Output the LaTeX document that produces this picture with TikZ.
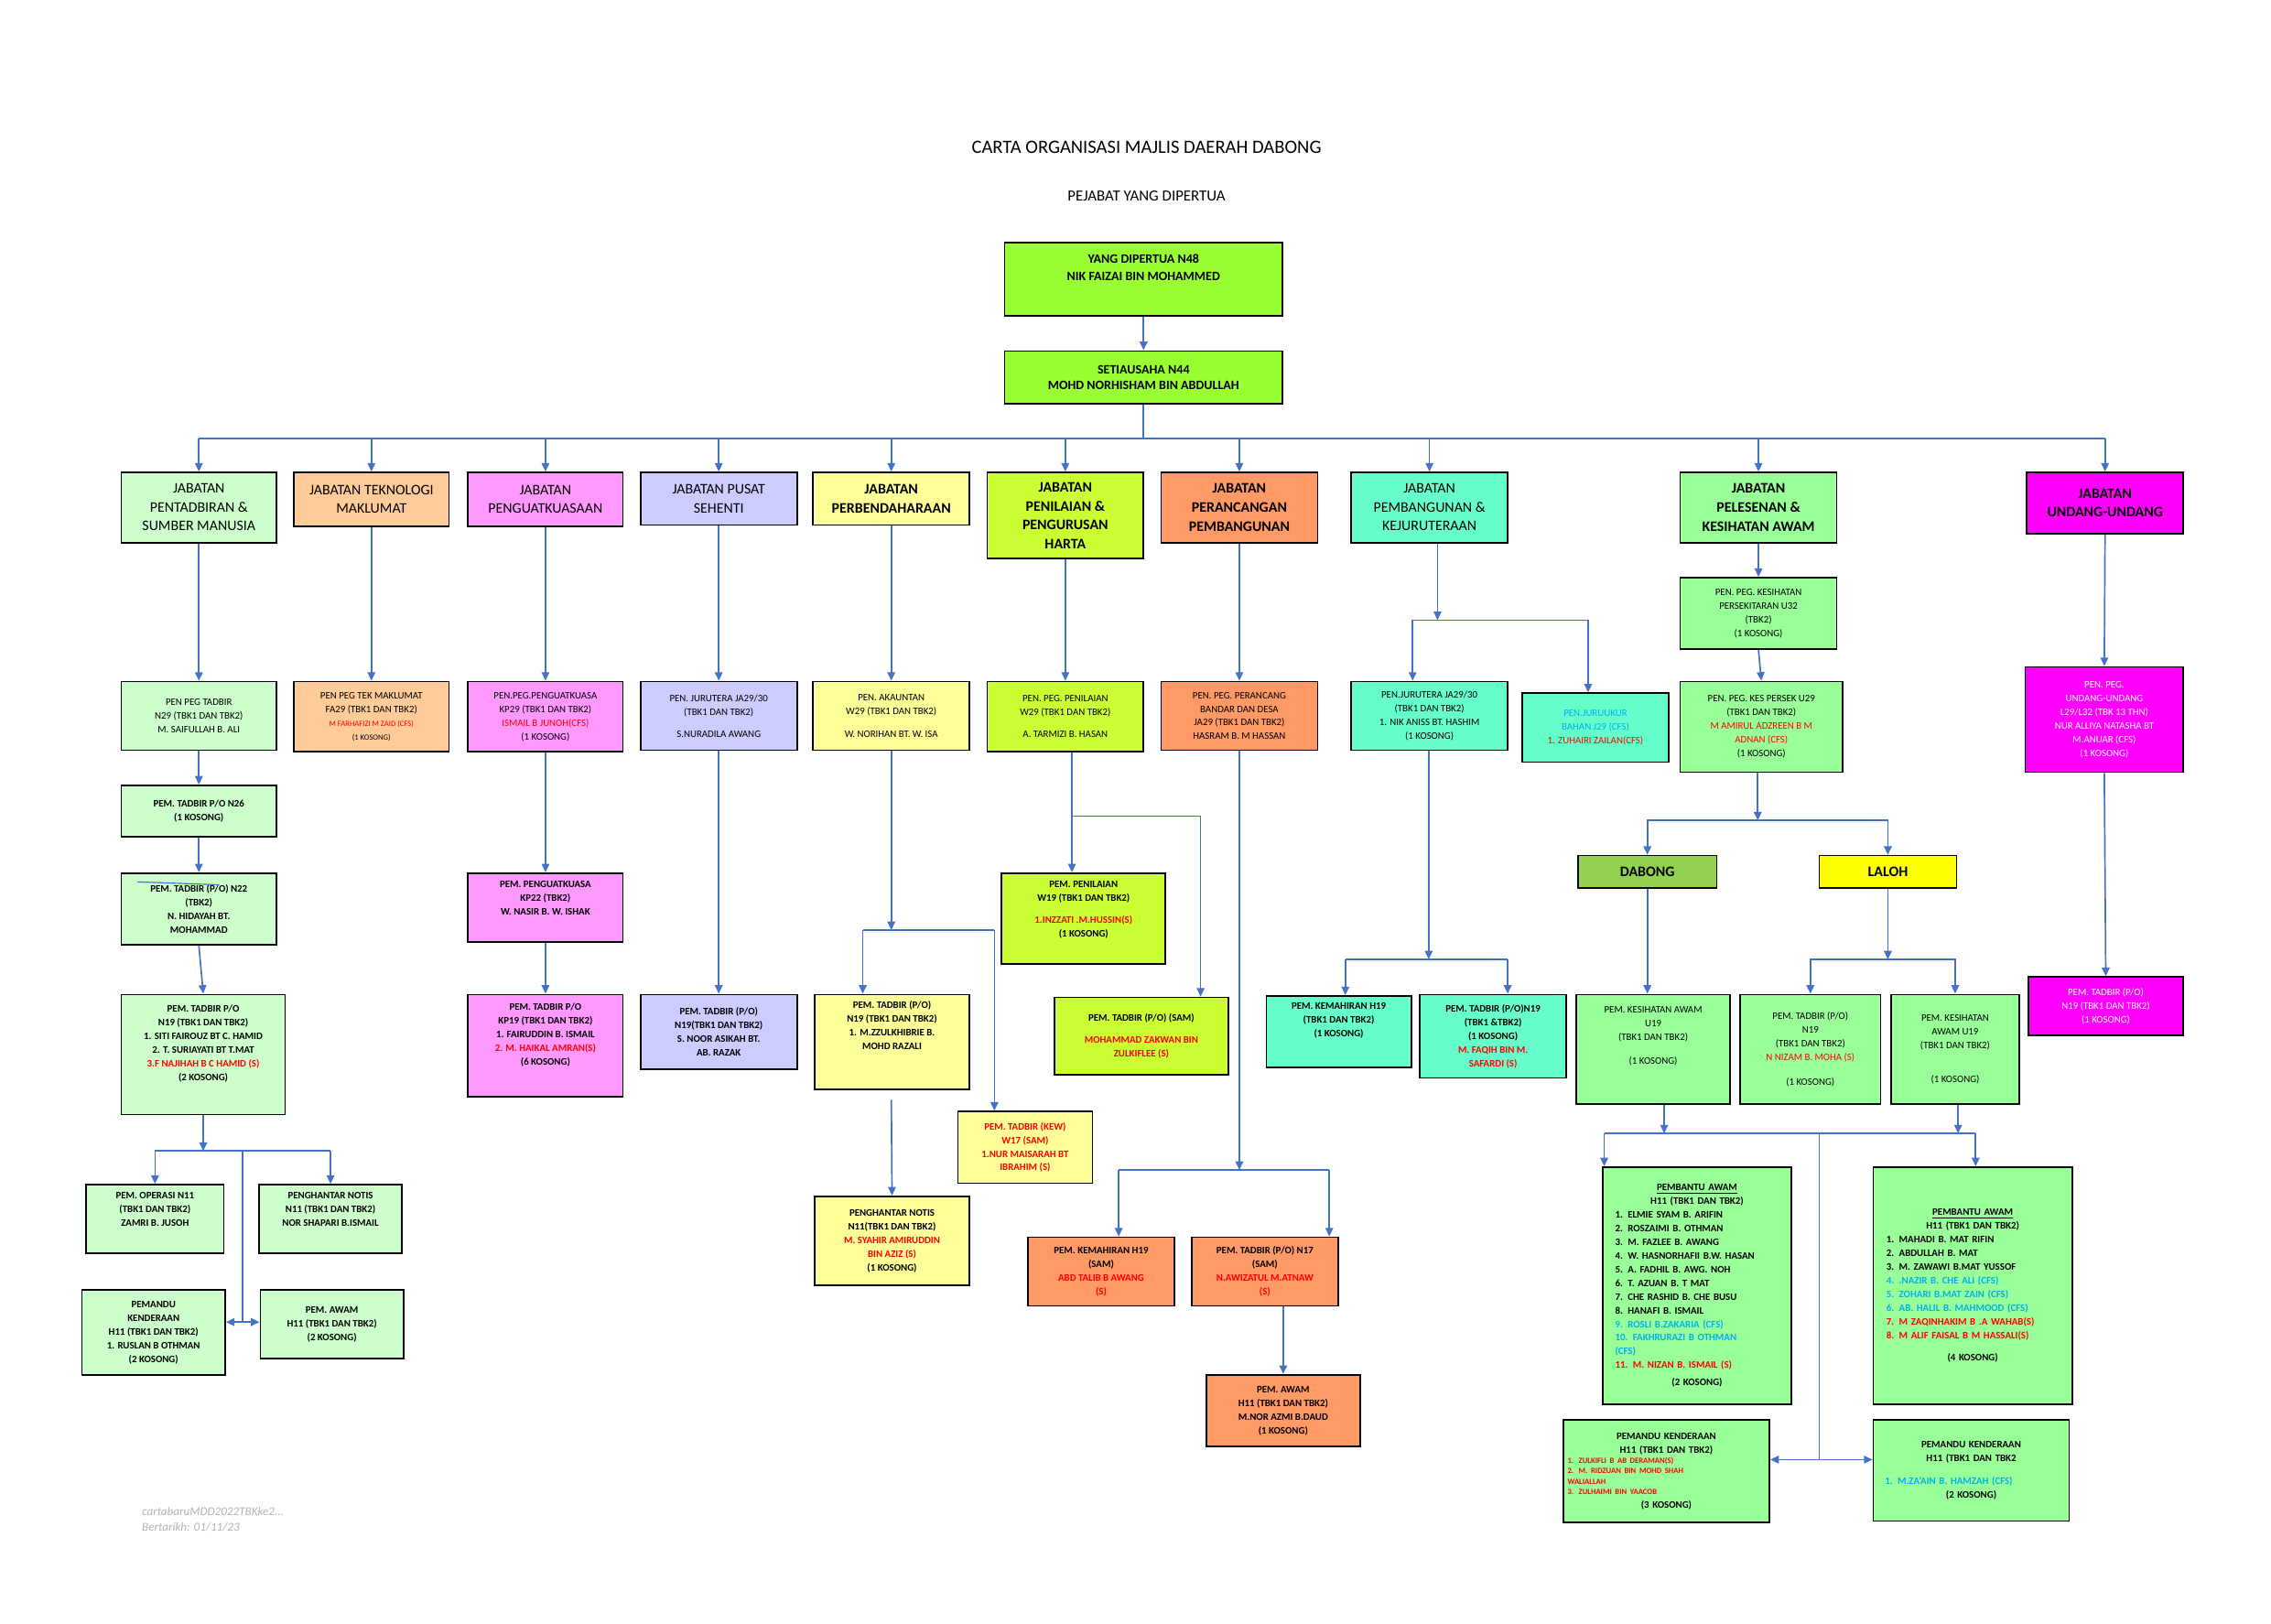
\documentclass[tikz,border=0pt]{standalone}
\usepackage{fontspec}
\setmainfont{Carlito}
\usetikzlibrary{arrows.meta}
\definecolor{cPsm}{HTML}{CCFFCC}
\definecolor{cTm}{HTML}{FFCC99}
\definecolor{cPk}{HTML}{FF99FF}
\definecolor{cPs}{HTML}{CCCCFF}
\definecolor{cPb}{HTML}{FFFF99}
\definecolor{cPh}{HTML}{CCFF33}
\definecolor{cPp}{HTML}{FF9966}
\definecolor{cPbk}{HTML}{66FFCC}
\definecolor{cPl}{HTML}{99FF99}
\definecolor{cUu}{HTML}{FF00FF}
\definecolor{cDab}{HTML}{92D050}
\definecolor{cLal}{HTML}{FFFF00}
\definecolor{cYdp}{HTML}{99FF33}
\definecolor{cArr}{HTML}{4472C4}
\definecolor{cRed}{HTML}{FF0000}
\definecolor{cCfs}{HTML}{00B0F0}
\newcommand{\fsA}{\fontsize{8.5}{11}\selectfont}
\newcommand{\fsB}{\fontsize{5.8}{8}\selectfont}
\newcommand{\fsC}{\fontsize{4.6}{6}\selectfont}
\newcommand{\rd}[1]{\textcolor{cRed}{#1}}
\newcommand{\cf}[1]{\textcolor{cCfs}{#1}}
\tikzset{
  box/.style={draw=black, line width=0.9pt, align=center, inner sep=1pt, font=\bfseries\fsB},
  jab/.style={box, font=\fsA},
  wh/.style 2 args={minimum width=#1*0.03cm, minimum height=#2*0.03cm},
  arr/.style={draw=cArr, line width=0.9pt, -{Triangle[width=4.5pt,length=5pt]}},
  ln/.style={draw=cArr, line width=0.9pt},
}
\begin{document}
\begin{tikzpicture}[x=0.03cm, y=-0.03cm]
\useasboundingbox (0,0) rectangle (1553,1110);

% title
\node (title) at (784,101) {\fontsize{11}{13}\selectfont CARTA ORGANISASI MAJLIS DAERAH DABONG};
\node (subtitle) at (784,134) {\fontsize{9}{11}\selectfont PEJABAT YANG DIPERTUA};

% top
\node[box, fill=cYdp, wh={190}{50}, font=\bfseries\fontsize{7.5}{10}\selectfont] (ydp) at (782,191) {YANG DIPERTUA N48\\NIK FAIZAI BIN MOHAMMED\\[4pt]};
\node[box, fill=cYdp, wh={190}{36}, font=\bfseries\fontsize{7.5}{9}\selectfont] (sua) at (782,258) {SETIAUSAHA N44\\MOHD NORHISHAM BIN ABDULLAH};

% jabatan
\node[jab, fill=cPsm, wh={106}{48}] (jpsm) at (136,347) {JABATAN\\PENTADBIRAN \&\\SUMBER MANUSIA};
\node[jab, fill=cTm, wh={106}{37}] (jtm) at (254,341.5) {JABATAN TEKNOLOGI\\MAKLUMAT};
\node[jab, fill=cPk, wh={106}{37}] (jpk) at (373,341.5) {JABATAN\\PENGUATKUASAAN};
\node[jab, fill=cPs, wh={107}{36}] (jps) at (491.5,341) {JABATAN PUSAT\\SEHENTI};
\node[jab, fill=cPb, wh={107}{36}, font=\bfseries\fsA] (jpb) at (609.5,341) {JABATAN\\PERBENDAHARAAN};
\node[jab, fill=cPh, wh={107}{59}, font=\bfseries\fsA] (jph) at (728.5,352.5) {JABATAN\\PENILAIAN \&\\PENGURUSAN\\HARTA};
\node[jab, fill=cPp, wh={107}{48}, font=\bfseries\fsA] (jpp) at (847.5,347) {JABATAN\\PERANCANGAN\\PEMBANGUNAN};
\node[jab, fill=cPbk, wh={107}{48}] (jpbk) at (977.5,347) {JABATAN\\PEMBANGUNAN \&\\KEJURUTERAAN};
\node[jab, fill=cPl, wh={107}{48}, font=\bfseries\fsA] (jpl) at (1202.5,347) {JABATAN\\PELESENAN \&\\KESIHATAN AWAM};
\node[jab, fill=cUu, wh={107}{42}, font=\bfseries\fsA] (juu) at (1439.5,344) {JABATAN\\UNDANG-UNDANG};

% second row
\node[box, fill=cPsm, wh={106}{47}, font=\fsB] (ptd) at (136,489.5) {PEN PEG TADBIR\\N29 (TBK1 DAN TBK2)\\M. SAIFULLAH B. ALI};
\node[box, fill=cTm, wh={106}{48}, font=\fsB] (ptm) at (254,490) {PEN PEG TEK MAKLUMAT\\FA29 (TBK1 DAN TBK2)\\{\fsC\rd{M FARHAFIZI M ZAID (CFS)}}\\{\fsC(1 KOSONG)}};
\node[box, fill=cPk, wh={106}{48}, font=\fsB] (ppk) at (373,490) {PEN.PEG.PENGUATKUASA\\KP29 (TBK1 DAN TBK2)\\\rd{ISMAIL B JUNOH(CFS)}\\(1 KOSONG)};
\node[box, fill=cPs, wh={107}{47}, font=\fsB] (pjr) at (491.5,489.5) {PEN. JURUTERA JA29/30\\(TBK1 DAN TBK2)\\[5pt]S.NURADILA AWANG};
\node[box, fill=cPb, wh={107}{47}, font=\fsB] (pak) at (609.5,489.5) {PEN. AKAUNTAN\\W29 (TBK1 DAN TBK2)\\[5pt]W. NORIHAN BT. W. ISA};
\node[box, fill=cPh, wh={107}{48}, font=\fsB] (ppn) at (728.5,490) {PEN. PEG. PENILAIAN\\W29 (TBK1 DAN TBK2)\\[5pt]A. TARMIZI B. HASAN};
\node[box, fill=cPp, wh={107}{47}, font=\fsB] (ppr) at (847.5,489.5) {PEN. PEG. PERANCANG\\BANDAR DAN DESA\\JA29 (TBK1 DAN TBK2)\\HASRAM B. M HASSAN};
\node[box, fill=cPbk, wh={107}{47}, font=\fsB] (pjr2) at (977.5,489.5) {PEN.JURUTERA JA29/30\\(TBK1 DAN TBK2)\\1. NIK ANISS BT. HASHIM\\(1 KOSONG)};
\node[box, fill=cPbk, wh={100}{47}, font=\fsB] (pjk) at (1091,497.5) {\cf{PEN.JURUUKUR}\\\cf{BAHAN J29 (CFS)}\\\rd{1. ZUHAIRI ZAILAN(CFS)}};
\node[box, fill=cPl, wh={107}{49}, font=\fsB] (pks1) at (1202.5,419.5) {PEN. PEG. KESIHATAN\\PERSEKITARAN U32\\(TBK2)\\(1 KOSONG)};
\node[box, fill=cPl, wh={111}{62}, font=\fsB] (pks2) at (1204.5,497) {PEN. PEG. KES PERSEK U29\\(TBK1 DAN TBK2)\\\rd{M AMIRUL ADZREEN B M}\\\rd{ADNAN (CFS)}\\(1 KOSONG)};
\node[box, fill=cUu, wh={108}{72}, font=\fsB, text=white] (puu) at (1439,492) {PEN. PEG.\\UNDANG-UNDANG\\L29/L32 (TBK 13 THN)\\NUR ALLIYA NATASHA BT\\M.ANUAR (CFS)\\(1 KOSONG)};

% pentadbiran
\node[box, fill=cPsm, wh={106}{35}] (pt26) at (136,554.5) {PEM. TADBIR P/O N26\\(1 KOSONG)};
\node[box, fill=cPsm, wh={106}{49}] (pt22) at (136,621.5) {PEM. TADBIR (P/O) N22\\(TBK2)\\N. HIDAYAH BT.\\MOHAMMAD};
\node[box, fill=cPsm, wh={112}{82}] (pt19) at (139,721) {PEM. TADBIR P/O\\N19 (TBK1 DAN TBK2)\\1. SITI FAIROUZ BT C. HAMID\\2. T. SURIAYATI BT T.MAT\\\rd{3.F NAJIHAH B C HAMID (S)}\\(2 KOSONG)\\[6pt]};
\node[box, fill=cPsm, wh={94}{47}] (pop) at (106,833.5) {PEM. OPERASI N11\\(TBK1 DAN TBK2)\\ZAMRI B. JUSOH\\[3pt]};
\node[box, fill=cPsm, wh={98}{47}] (phn) at (226,833.5) {PENGHANTAR NOTIS\\N11 (TBK1 DAN TBK2)\\NOR SHAPARI B.ISMAIL\\[3pt]};
\node[box, fill=cPsm, wh={98}{58}] (pmd) at (105,911) {PEMANDU\\KENDERAAN\\H11 (TBK1 DAN TBK2)\\1. RUSLAN B OTHMAN\\(2 KOSONG)};
\node[box, fill=cPsm, wh={98}{47}] (paw) at (227,905.5) {PEM. AWAM\\H11 (TBK1 DAN TBK2)\\(2 KOSONG)};

% penguatkuasaan, pusat sehenti, perbendaharaan
\node[box, fill=cPk, wh={106}{47}] (pkp22) at (373,620.5) {PEM. PENGUATKUASA\\KP22 (TBK2)\\W. NASIR B. W. ISHAK\\[3pt]};
\node[box, fill=cPk, wh={106}{70}] (pkp19) at (373,715) {PEM. TADBIR P/O\\KP19 (TBK1 DAN TBK2)\\1. FAIRUDDIN B. ISMAIL\\\rd{2. M. HAIKAL AMRAN(S)}\\(6 KOSONG)\\[5pt]};
\node[box, fill=cPs, wh={107}{51}] (pps19) at (491.5,705.5) {PEM. TADBIR (P/O)\\N19(TBK1 DAN TBK2)\\S. NOOR ASIKAH BT.\\AB. RAZAK};
\node[box, fill=cPb, wh={106}{65}] (pty19) at (610,712.5) {PEM. TADBIR (P/O)\\N19 (TBK1 DAN TBK2)\\1. M.ZZULKHIBRIE B.\\MOHD RAZALI\\[12pt]};
\node[box, fill=cPb, wh={92}{49}] (pkew) at (701,784.5) {\rd{PEM. TADBIR (KEW)}\\\rd{W17 (SAM)}\\\rd{1.NUR MAISARAH BT}\\\rd{IBRAHIM (S)}};
\node[box, fill=cPb, wh={106}{61}] (phn2) at (610,848.5) {PENGHANTAR NOTIS\\N11(TBK1 DAN TBK2)\\\rd{M. SYAHIR AMIRUDDIN}\\\rd{BIN AZIZ (S)}\\(1 KOSONG)};

% penilaian, perancangan
\node[box, fill=cPh, wh={112}{62}] (pnw19) at (741,628) {PEM. PENILAIAN\\W19 (TBK1 DAN TBK2)\\[5pt]\rd{1.INZZATI .M.HUSSIN(S)}\\(1 KOSONG)\\[3pt]};
\node[box, fill=cPh, wh={119}{53}] (ptsam) at (780.5,708.5) {PEM. TADBIR (P/O) (SAM)\\[5pt]\rd{MOHAMMAD ZAKWAN BIN}\\\rd{ZULKIFLEE (S)}};
\node[box, fill=cPp, wh={100}{47}] (pkm) at (753,869.5) {PEM. KEMAHIRAN H19\\(SAM)\\\rd{ABD TALIB B AWANG}\\\rd{(S)}};
\node[box, fill=cPp, wh={100}{47}] (pt17) at (865,869.5) {PEM. TADBIR (P/O) N17\\(SAM)\\\rd{N.AWIZATUL M.ATNAW}\\\rd{(S)}};
\node[box, fill=cPp, wh={105}{49}] (paw2) at (877.5,964.5) {PEM. AWAM\\H11 (TBK1 DAN TBK2)\\M.NOR AZMI B.DAUD\\(1 KOSONG)};

% pembangunan
\node[box, fill=cPbk, wh={99}{49}] (pkm2) at (915.5,705.5) {PEM. KEMAHIRAN H19\\(TBK1 DAN TBK2)\\(1 KOSONG)\\[6pt]};
\node[box, fill=cPbk, wh={100}{57}] (pt19c) at (1021,708.5) {PEM. TADBIR (P/O)N19\\(TBK1 \&TBK2)\\(1 KOSONG)\\\rd{M. FAQIH BIN M.}\\\rd{SAFARDI (S)}};

% pelesenan
\node[box, fill=cDab, wh={95}{22}, font=\bfseries\fontsize{8.5}{10}\selectfont] (dab) at (1126.5,596) {DABONG};
\node[box, fill=cLal, wh={94}{22}, font=\bfseries\fontsize{8.5}{10}\selectfont] (lal) at (1291,596) {LALOH};
\node[box, fill=cPl, wh={105}{75}, font=\fsB] (pkaw) at (1130.5,717.5) {PEM. KESIHATAN AWAM\\U19\\(TBK1 DAN TBK2)\\[6pt](1 KOSONG)\\[8pt]};
\node[box, fill=cPl, wh={96}{75}, font=\fsB] (pt19d) at (1238,717.5) {PEM. TADBIR (P/O)\\N19\\(TBK1 DAN TBK2)\\\rd{N NIZAM B. MOHA (S)}\\[6pt](1 KOSONG)};
\node[box, fill=cPl, wh={88}{75}, font=\fsB] (pkaw2) at (1337,717.5) {PEM. KESIHATAN\\AWAM U19\\(TBK1 DAN TBK2)\\[12pt](1 KOSONG)};
\node[box, fill=cPl, wh={129}{162}, text width=112*0.03cm, align=left] (pba1) at (1160.5,879) {{\centering\underline{PEMBANTU AWAM}\\H11 (TBK1 DAN TBK2)\par}
1. ELMIE SYAM B. ARIFIN\\2. ROSZAIMI B. OTHMAN\\3. M. FAZLEE B. AWANG\\4. W. HASNORHAFII B.W. HASAN\\5. A. FADHIL B. AWG. NOH\\6. T. AZUAN B. T MAT\\7. CHE RASHID B. CHE BUSU\\8. HANAFI B. ISMAIL\\\cf{9. ROSLI B.ZAKARIA (CFS)}\\\cf{10. FAKHRURAZI B OTHMAN}\\\cf{(CFS)}\\\rd{11. M. NIZAN B. ISMAIL (S)}\\[2pt]{\centering (2 KOSONG)\par}};
\node[box, fill=cPl, wh={136}{162}, text width=118*0.03cm, align=left] (pba2) at (1349,879) {{\centering\underline{PEMBANTU AWAM}\\H11 (TBK1 DAN TBK2)\par}
1. MAHADI B. MAT RIFIN\\2. ABDULLAH B. MAT\\3. M. ZAWAWI B.MAT YUSSOF\\\cf{4. .NAZIR B. CHE ALI (CFS)}\\\cf{5. ZOHARI B.MAT ZAIN (CFS)}\\\cf{6. AB. HALIL B. MAHMOOD (CFS)}\\\rd{7. M ZAQINHAKIM B .A WAHAB(S)}\\\rd{8. M ALIF FAISAL B M HASSALI(S)}\\[5pt]{\centering (4 KOSONG)\par}\vspace{30pt}};
\node[box, fill=cPl, wh={141}{70}, text width=135*0.03cm, align=left] (pmk1) at (1139.5,1006) {{\centering PEMANDU KENDERAAN\\H11 (TBK1 DAN TBK2)\par}
{\fsC\rd{1. ZULKIFLI B AB DERAMAN(S)}\\\rd{2. M. RIDZUAN BIN MOHD SHAH}\\\rd{WALIALLAH}\\\rd{3. ZULHAIMI BIN YAACOB}\par}
{\centering (3 KOSONG)\par}};
\node[box, fill=cPl, wh={134}{69}, text width=118*0.03cm, align=left] (pmk2) at (1348,1005.5) {{\centering PEMANDU KENDERAAN\\H11 (TBK1 DAN TBK2\par}\vspace{5pt}
\cf{1. M.ZA'AIN B. HAMZAH (CFS)}\\{\centering (2 KOSONG)\par}\vspace{6pt}};

% undang-undang
\node[box, fill=cUu, wh={106}{40}, font=\fsB, text=white] (pt19e) at (1440,688) {PEM. TADBIR (P/O)\\N19 (TBK1 DAN TBK2)\\(1 KOSONG)};

% footer
\node[anchor=west, align=left, text=gray!60, font=\itshape\fontsize{7}{9}\selectfont] (foot) at (93,1039) {cartabaruMDD2022TBKke2...\\Bertarikh: 01/11/23};

% connectors: top
\coordinate (busL) at (136,300);
\coordinate (busR) at (1439.5,300);
\draw[arr] (ydp) -- (sua);
\draw[ln] (sua.south) -- (sua.south |- busL);
\draw[ln] (busL) -- (busR);
\foreach \n in {jpsm,jtm,jpk,jps,jpb,jph,jpp,jpbk,jpl,juu}
  \draw[arr] (\n.north |- busL) -- (\n.north);

% straight drops
\foreach \a/\b in {jpsm/ptd,ptd/pt26,pt26/pt22,pt22/pt19,jtm/ptm,jpk/ppk,ppk/pkp22,pkp22/pkp19,jps/pjr,pjr/pps19,jpb/pak,jph/ppn,jpp/ppr,jpl/pks1,pks1/pks2,juu/puu,puu/pt19e}
  \draw[arr] (\a.south) -- (\b.north);
\draw[cArr, line width=0.6pt] (94,603) -- (150,605);

% pentadbiran split
\coordinate (ta) at (139,787);
\coordinate (tm) at (166,787);
\coordinate (tb) at (166,904);
\draw[arr] (pt19.south) -- (ta);
\draw[ln] (pop.north |- ta) -- (phn.north |- ta);
\draw[arr] (pop.north |- ta) -- (pop.north);
\draw[arr] (phn.north |- ta) -- (phn.north);
\draw[ln] (tm) -- (tb);
\draw[arr] (tb) -- (tb -| pmd.east);
\draw[arr] (tb) -- (tb -| paw.west);

% perbendaharaan
\coordinate (pb0) at (609.5,636);
\coordinate (pb1) at (590,636);
\coordinate (pb2) at (680,636);
\coordinate (pb3) at (609.5,752);
\draw[arr] (pak.south) -- (pb0);
\draw[ln] (pb1) -- (pb2);
\draw[arr] (pb1) -- (pb1 |- pty19.north);
\draw[arr] (pb2) -- (pb2 |- pkew.north);
\draw[arr] (pb3) -- (phn2.north);

% penilaian
\coordinate (pn1) at (733,558);
\coordinate (pn2) at (821,558);
\draw[arr] (ppn.south -| pn1) -- (pn1 |- pnw19.north);
\draw[ln] (pn1) -- (pn2);
\draw[arr] (pn2) -- (pn2 |- ptsam.north);

% perancangan
\coordinate (pr1) at (847.5,800);
\coordinate (pr2) at (765,800);
\coordinate (pr3) at (909,800);
\draw[arr] (ppr.south) -- (pr1);
\draw[ln] (pr2) -- (pr3);
\draw[arr] (pr2) -- (pr2 |- pkm.north);
\draw[arr] (pr3) -- (pr3 |- pt17.north);
\draw[arr] (paw2.north |- pt17.south) -- (paw2.north);

% pembangunan
\coordinate (kb) at (983,424);
\coordinate (kb1) at (966,424);
\coordinate (kb2) at (1086,424);
\draw[arr] (jpbk.south -| kb) -- (kb);
\draw[ln] (kb1) -- (kb2);
\draw[arr] (kb1) -- (kb1 |- pjr2.north);
\draw[arr] (kb2) -- (kb2 |- pjk.north);
\coordinate (kc) at (977,656);
\coordinate (kc1) at (920,656);
\coordinate (kc2) at (1031,656);
\draw[arr] (pjr2.south -| kc) -- (kc);
\draw[ln] (kc1) -- (kc2);
\draw[arr] (kc1) -- (kc1 |- pkm2.north);
\draw[arr] (kc2) -- (kc2 |- pt19c.north);

% pelesenan
\coordinate (la) at (1202,561);
\draw[arr] (pks2.south -| la) -- (la);
\draw[arr] (la) -| (dab.north);
\draw[arr] (la) -| (lal.north);
\draw[arr] (dab.south) -- (dab.south |- pkaw.north);
\coordinate (lc) at (1291,656);
\draw[arr] (lal.south) -- (lc);
\draw[arr] (lc) -| (pt19d.north);
\draw[arr] (lc) -| (pkaw2.north);
\coordinate (ld1) at (1138,775);
\coordinate (ld2) at (1339,775);
\coordinate (lm) at (1244,775);
\coordinate (le) at (1244,998);
\draw[arr] (pkaw.south -| ld1) -- (ld1);
\draw[arr] (pkaw2.south -| ld2) -- (ld2);
\draw[ln] (1097,775) -- (1351,775);
\draw[arr] (1097,775) -- (pba1.north -| 1097,0);
\draw[arr] (1351,775) -- (pba2.north -| 1351,0);
\draw[ln] (lm) -- (le);
\draw[arr] (le) -- (le -| pmk1.east);
\draw[arr] (le) -- (le -| pmk2.west);
\end{tikzpicture}
\end{document}
